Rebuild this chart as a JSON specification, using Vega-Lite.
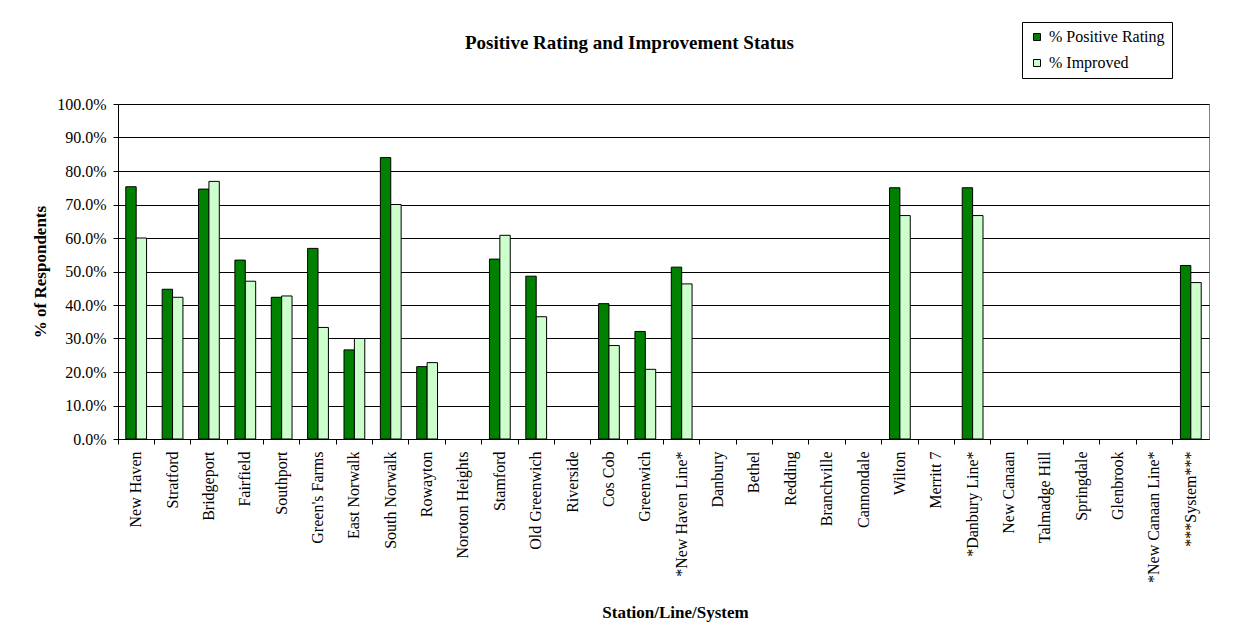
{
  "$schema": "https://vega.github.io/schema/vega-lite/v6.json",
  "width": 1091,
  "height": 335,
  "autosize": {"type": "none"},
  "padding": {"left": 118, "top": 104, "right": 38, "bottom": 199},
  "background": "white",
  "title": {
    "text": "Positive Rating and Improvement Status",
    "font": "Liberation Serif",
    "fontSize": 19,
    "fontWeight": "bold",
    "color": "black",
    "anchor": "middle",
    "frame": "group",
    "dx": -34,
    "offset": -31
  },
  "data": {
    "values": [
      {"station": "New Haven", "series": "% Positive Rating", "value": 0.753},
      {"station": "New Haven", "series": "% Improved", "value": 0.600},
      {"station": "Stratford", "series": "% Positive Rating", "value": 0.447},
      {"station": "Stratford", "series": "% Improved", "value": 0.423},
      {"station": "Bridgeport", "series": "% Positive Rating", "value": 0.746},
      {"station": "Bridgeport", "series": "% Improved", "value": 0.769},
      {"station": "Fairfield", "series": "% Positive Rating", "value": 0.534},
      {"station": "Fairfield", "series": "% Improved", "value": 0.471},
      {"station": "Southport", "series": "% Positive Rating", "value": 0.423},
      {"station": "Southport", "series": "% Improved", "value": 0.427},
      {"station": "Green's Farms", "series": "% Positive Rating", "value": 0.569},
      {"station": "Green's Farms", "series": "% Improved", "value": 0.333},
      {"station": "East Norwalk", "series": "% Positive Rating", "value": 0.266},
      {"station": "East Norwalk", "series": "% Improved", "value": 0.300},
      {"station": "South Norwalk", "series": "% Positive Rating", "value": 0.840},
      {"station": "South Norwalk", "series": "% Improved", "value": 0.700},
      {"station": "Rowayton", "series": "% Positive Rating", "value": 0.216},
      {"station": "Rowayton", "series": "% Improved", "value": 0.228},
      {"station": "Stamford", "series": "% Positive Rating", "value": 0.537},
      {"station": "Stamford", "series": "% Improved", "value": 0.608},
      {"station": "Old Greenwich", "series": "% Positive Rating", "value": 0.486},
      {"station": "Old Greenwich", "series": "% Improved", "value": 0.365},
      {"station": "Cos Cob", "series": "% Positive Rating", "value": 0.404},
      {"station": "Cos Cob", "series": "% Improved", "value": 0.279},
      {"station": "Greenwich", "series": "% Positive Rating", "value": 0.321},
      {"station": "Greenwich", "series": "% Improved", "value": 0.208},
      {"station": "*New Haven Line*", "series": "% Positive Rating", "value": 0.513},
      {"station": "*New Haven Line*", "series": "% Improved", "value": 0.463},
      {"station": "Wilton", "series": "% Positive Rating", "value": 0.750},
      {"station": "Wilton", "series": "% Improved", "value": 0.667},
      {"station": "*Danbury Line*", "series": "% Positive Rating", "value": 0.750},
      {"station": "*Danbury Line*", "series": "% Improved", "value": 0.667},
      {"station": "***System***", "series": "% Positive Rating", "value": 0.518},
      {"station": "***System***", "series": "% Improved", "value": 0.467}
    ]
  },
  "mark": {"type": "bar", "stroke": "black", "strokeWidth": 1},
  "encoding": {
    "x": {
      "field": "station",
      "type": "nominal",
      "scale": {
        "domain": ["New Haven", "Stratford", "Bridgeport", "Fairfield", "Southport", "Green's Farms", "East Norwalk", "South Norwalk", "Rowayton", "Noroton Heights", "Stamford", "Old Greenwich", "Riverside", "Cos Cob", "Greenwich", "*New Haven Line*", "Danbury", "Bethel", "Redding", "Branchville", "Cannondale", "Wilton", "Merritt 7", "*Danbury Line*", "New Canaan", "Talmadge Hill", "Springdale", "Glenbrook", "*New Canaan Line*", "***System***"],
        "paddingInner": 0,
        "paddingOuter": 0
      },
      "axis": {
        "title": "Station/Line/System",
        "titleFont": "Liberation Serif",
        "titleFontSize": 17,
        "titleFontWeight": "bold",
        "titleColor": "black",
        "titleBaseline": "middle",
        "titleY": 173,
        "titleX": 557,
        "labelAngle": -90,
        "labelFont": "Liberation Serif",
        "labelFontSize": 16,
        "labelColor": "black",
        "labelPadding": 7,
        "bandPosition": 0,
        "tickColor": "black",
        "tickSize": 5,
        "domainColor": "black",
        "grid": false
      }
    },
    "xOffset": {
      "field": "series",
      "type": "nominal",
      "sort": ["% Positive Rating", "% Improved"],
      "scale": {"paddingInner": 0, "paddingOuter": 0.75}
    },
    "y": {
      "field": "value",
      "type": "quantitative",
      "scale": {"domain": [0, 1], "nice": false},
      "axis": {
        "title": "% of Respondents",
        "titleFont": "Liberation Serif",
        "titleFontSize": 17,
        "titleFontWeight": "bold",
        "titleColor": "black",
        "titleX": -78,
        "titleY": 167.5,
        "titleBaseline": "middle",
        "values": [0, 0.1, 0.2, 0.3, 0.4, 0.5, 0.6, 0.7, 0.8, 0.9, 1],
        "format": ".1%",
        "labelFont": "Liberation Serif",
        "labelFontSize": 16,
        "labelColor": "black",
        "labelPadding": 7,
        "tickColor": "black",
        "tickSize": 5,
        "domainColor": "black",
        "grid": true,
        "gridColor": "black",
        "gridOpacity": 1
      }
    },
    "color": {
      "field": "series",
      "type": "nominal",
      "sort": ["% Positive Rating", "% Improved"],
      "scale": {"domain": ["% Positive Rating", "% Improved"], "range": ["#008000", "#CCFFCC"]},
      "legend": {
        "title": null,
        "orient": "none",
        "legendX": 904,
        "legendY": -82,
        "strokeColor": "black",
        "fillColor": "white",
        "padding": 7,
        "symbolType": "square",
        "symbolSize": 49,
        "symbolStrokeColor": "black",
        "symbolStrokeWidth": 1,
        "labelFont": "Liberation Serif",
        "labelFontSize": 16,
        "labelColor": "black",
        "labelOffset": 4,
        "rowPadding": 10
      }
    }
  },
  "config": {
    "view": {"stroke": "#808080", "strokeWidth": 1}
  }
}
